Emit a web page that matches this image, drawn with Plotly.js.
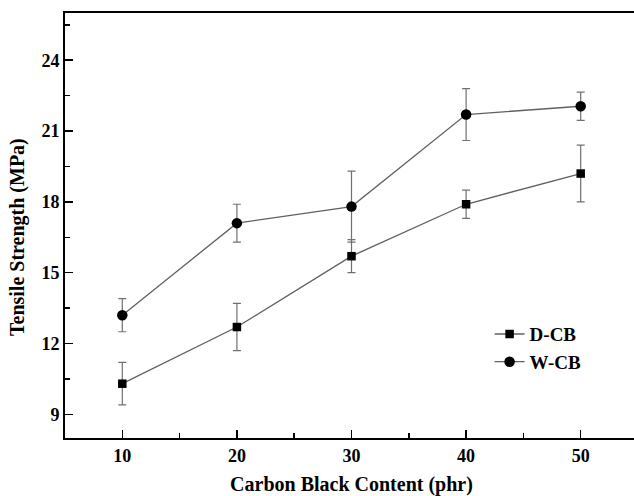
<!DOCTYPE html>
<html>
<head>
<meta charset="utf-8">
<script src="https://cdn.plot.ly/plotly-3.0.1.min.js"></script>
<style>html,body{margin:0;padding:0;overflow:hidden;background:#fff;}</style>
</head>
<body>
<div id="chart"></div>
<script>
const content = [10, 20, 30, 40, 50];
const dcbStrength = [10.3, 12.7, 15.7, 17.9, 19.2];
const dcbError = [0.9, 1.0, 0.7, 0.6, 1.2];
const wcbStrength = [13.2, 17.1, 17.8, 21.7, 22.05];
const wcbError = [0.7, 0.8, 1.5, 1.1, 0.6];
const yTicks = [9, 12, 15, 18, 21, 24];
const xTicks = [10, 20, 30, 40, 50];

const serif = '"Liberation Serif", "Times New Roman", serif';

const traces = [
  {
    x: content, y: dcbStrength, name: 'D-CB', type: 'scatter', mode: 'lines+markers',
    line: {color: '#606060', width: 1.3},
    marker: {symbol: 'square', size: 8.5, color: '#000'},
    error_y: {type: 'data', array: dcbError, visible: true, color: '#707070', thickness: 1.2, width: 4}
  },
  {
    x: content, y: wcbStrength, name: 'W-CB', type: 'scatter', mode: 'lines+markers',
    line: {color: '#606060', width: 1.3},
    marker: {symbol: 'circle', size: 10.5, color: '#000'},
    error_y: {type: 'data', array: wcbError, visible: true, color: '#707070', thickness: 1.2, width: 4}
  }
];

const axisCommon = {
  showline: true, linecolor: '#000', linewidth: 2, mirror: true,
  ticks: 'inside', ticklen: 8, tickwidth: 1.5, tickcolor: '#000',
  showgrid: false, zeroline: false,
  tickfont: {family: serif, size: 18, color: '#000', weight: 'bold'},
  minor: {ticks: 'inside', ticklen: 5, tickwidth: 1.5, tickcolor: '#000', showgrid: false}
};

const layout = {
  width: 640, height: 496,
  margin: {l: 65, r: 2, t: 13, b: 58},
  paper_bgcolor: '#fff', plot_bgcolor: '#fff',
  showlegend: true,
  legend: {
    x: 0.741, y: 0.289, xanchor: 'left', yanchor: 'top',
    bgcolor: 'rgba(0,0,0,0)', borderwidth: 0,
    font: {family: serif, size: 19, color: '#000', weight: 'bold'}
  },
  xaxis: Object.assign({}, axisCommon, {
    range: [5, 55], tickvals: xTicks, ticktext: xTicks.map(String),
    minor: Object.assign({}, axisCommon.minor, {tickvals: [15, 25, 35, 45]}),
    title: {text: 'Carbon Black Content (phr)', standoff: 12,
      font: {family: serif, size: 20, color: '#000', weight: 'bold'}}
  }),
  yaxis: Object.assign({}, axisCommon, {
    range: [8, 26], tickvals: yTicks, ticktext: yTicks.map(String),
    minor: Object.assign({}, axisCommon.minor, {tickvals: [10.5, 13.5, 16.5, 19.5, 22.5, 25.5]})
  }),
  annotations: [{
    text: 'Tensile Strength (MPa)', textangle: -90, showarrow: false,
    xref: 'paper', yref: 'paper', x: -0.082, y: 0.473, xanchor: 'center', yanchor: 'middle',
    font: {family: serif, size: 20, color: '#000', weight: 'bold'}
  }]
};

Plotly.newPlot('chart', traces, layout, {displayModeBar: false, staticPlot: true});
</script>
</body>
</html>
